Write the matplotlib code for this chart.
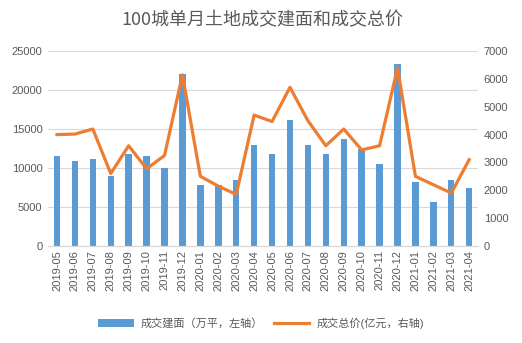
import numpy as np
import matplotlib
matplotlib.use('Agg')
import matplotlib.pyplot as plt

plt.rcParams['font.family'] = ['Liberation Sans', 'Noto Sans CJK SC', 'DejaVu Sans']

# datos
meses = ['2019-05', '2019-06', '2019-07', '2019-08', '2019-09', '2019-10', '2019-11', '2019-12',
         '2020-01', '2020-02', '2020-03', '2020-04', '2020-05', '2020-06', '2020-07', '2020-08',
         '2020-09', '2020-10', '2020-11', '2020-12', '2021-01', '2021-02', '2021-03', '2021-04']
jianmian = [11600, 10900, 11100, 9000, 11800, 11500, 10000, 22000,
            7800, 7800, 8400, 13000, 11800, 16200, 13000, 11800,
            13700, 12400, 10500, 23400, 8200, 5600, 8500, 7400]
zongjia = [4000, 4020, 4200, 2600, 3600, 2770, 3250, 6150,
           2500, 2150, 1850, 4700, 4470, 5700, 4500, 3600,
           4200, 3450, 3600, 6400, 2500, 2200, 1900, 3100]

GRIS = '#595959'
AZUL = '#5B9BD5'
NARANJA = '#ED7D31'

fig = plt.figure(figsize=(5.22, 3.43), dpi=100)
ax = fig.add_axes([0.092, 0.283, 0.824, 0.568])
x = np.arange(len(meses))

ax.bar(x, jianmian, width=0.36, color=AZUL, label='成交建面（万平，左轴）', zorder=2)
ax.set_ylim(0, 25000)
ax.set_yticks(range(0, 25001, 5000))
ax.set_xlim(-0.5, len(meses) - 0.5)
ax.set_xticks(x)
ax.set_xticklabels(meses, rotation=90)
ax.grid(axis='y', color='#D9D9D9', linewidth=0.8, zorder=0)
ax.set_axisbelow(True)

ax2 = ax.twinx()
ax2.plot(x, zongjia, color=NARANJA, linewidth=2.3, label='成交总价(亿元，右轴)', zorder=3)
ax2.set_ylim(0, 7000)
ax2.set_yticks(range(0, 7001, 1000))

for a in (ax, ax2):
    for s in ['top', 'left', 'right']:
        a.spines[s].set_visible(False)
    a.spines['bottom'].set_color('#D9D9D9')
    a.tick_params(length=0, labelsize=8, colors=GRIS, pad=4)
ax.tick_params(axis='x', pad=3)

fig.suptitle('100城单月土地成交建面和成交总价', x=0.502, y=0.968, fontsize=13, color=GRIS,
             fontfamily=['Noto Sans CJK SC', 'DejaVu Sans'])

h1, l1 = ax.get_legend_handles_labels()
h2, l2 = ax2.get_legend_handles_labels()
fig.legend(h1 + h2, l1 + l2, loc='center', bbox_to_anchor=(0.5, 0.058), ncol=2,
           frameon=False, fontsize=8, labelcolor=GRIS, handlelength=3.2,
           columnspacing=1.0, handletextpad=0.6)

fig.savefig('out.png', dpi=100)
